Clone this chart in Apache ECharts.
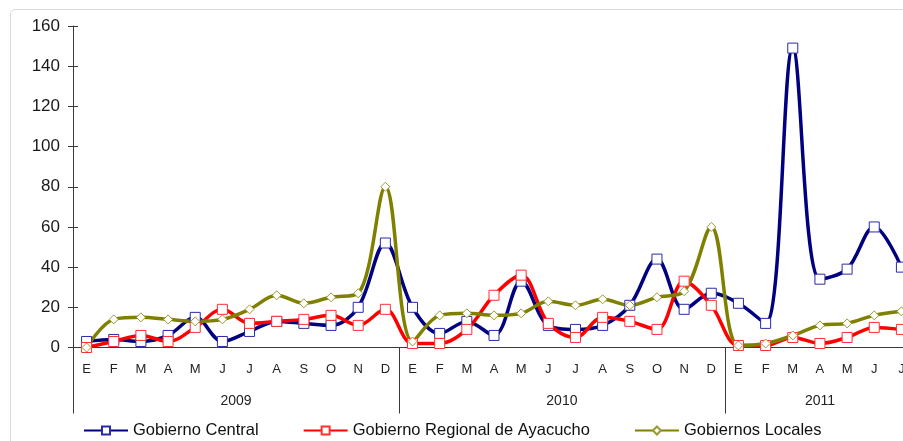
<!DOCTYPE html>
<html>
<head>
<meta charset="utf-8">
<script src="https://cdn.jsdelivr.net/npm/echarts@6/dist/echarts.min.js"></script>
<style>
  html, body { margin: 0; padding: 0; overflow: hidden; background: #fff; }
  #frame { position: absolute; left: 10px; top: 9px; width: 1000px; height: 1000px; border: 1px solid #dadada; border-radius: 5px; }
  #chart { position: absolute; left: 0; top: 0; width: 960px; height: 441px; }
</style>
</head>
<body>
<div id="frame"></div>
<div id="chart"></div>
<script>
const months = [
  'E', 'F', 'M', 'A', 'M', 'J', 'J', 'A', 'S', 'O', 'N', 'D',
  'E', 'F', 'M', 'A', 'M', 'J', 'J', 'A', 'S', 'O', 'N', 'D',
  'E', 'F', 'M', 'A', 'M', 'J', 'J'
]
const years = ['2009', '2010', '2011']
const yearStarts = [0, 12, 24]
const yearMids = [6, 18, 27.5]

const central = [3, 4, 3, 6, 15, 3, 8, 13, 12, 11, 20, 52,
  20, 7, 13, 6, 33, 11, 9, 11, 21, 44, 19, 27,
  22, 12, 149, 34, 39, 60, 40]
const regional = [0, 3, 6, 3, 10, 19, 12, 13, 14, 16, 11, 19,
  2, 2, 9, 26, 36, 12, 5, 15, 13, 9, 33, 21,
  1, 1, 5, 2, 5, 10, 9]
const locales = [0, 14, 15, 14, 13, 14, 19, 26, 22, 25, 27, 80,
  3, 16, 17, 16, 17, 23, 21, 24, 21, 25, 28, 60,
  1, 2, 6, 11, 12, 16, 18]

const chart = echarts.init(document.getElementById('chart'))
const axisColor = '#3a3a3a'
const font = 'Liberation Sans, Arial, sans-serif'

function line(name, data, color, markColor, symbol, size) {
  return {
    name,
    type: 'line',
    data,
    smooth: 0.35,
    symbol,
    symbolSize: size,
    showAllSymbol: true,
    lineStyle: { color, width: 3.5 },
    itemStyle: { color: '#fff', borderColor: markColor, borderWidth: 1 },
    emphasis: { disabled: true },
  }
}

chart.setOption({
  animation: false,
  textStyle: { fontFamily: font },
  grid: { left: 73, top: 26, width: 842, height: 321.5 },
  legend: {
    left: 83,
    top: 422,
    padding: 0,
    itemWidth: 44,
    itemHeight: 10,
    itemGap: 44,
    textStyle: { fontSize: 16.5, color: '#111', fontFamily: font },
  },
  xAxis: [
    {
      type: 'category',
      data: months,
      axisLine: { lineStyle: { color: axisColor, width: 1 } },
      axisTick: { length: 33, lineStyle: { color: axisColor } },
      axisLabel: { color: '#222', fontSize: 13, margin: 15, interval: 0 },
    },
    {
      type: 'value',
      min: 0,
      max: 31,
      position: 'bottom',
      splitLine: { show: false },
      axisLine: { show: false },
      axisTick: { show: true, length: 66, customValues: yearStarts, lineStyle: { color: axisColor } },
      axisLabel: {
        color: '#222', fontSize: 14, margin: 47,
        customValues: yearMids,
        formatter: v => years[yearMids.indexOf(v)],
      },
    },
  ],
  yAxis: [
    {
      type: 'value',
      min: 0,
      max: 160,
      interval: 20,
      splitLine: { show: false },
      axisLine: { show: true, lineStyle: { color: axisColor } },
      axisTick: { show: true, length: 5, lineStyle: { color: axisColor } },
      axisLabel: { color: '#1a1a1a', fontSize: 17, margin: 13 },
    },
    {
      type: 'value',
      min: 0,
      max: 160,
      interval: 20,
      position: 'left',
      splitLine: { show: false },
      axisLine: { show: false },
      axisTick: { show: true, inside: true, length: 5, lineStyle: { color: axisColor } },
      axisLabel: { show: false },
    },
  ],
  series: [
    line('Gobierno Central', central, '#000080', '#2a2aa8', 'rect', 10),
    line('Gobierno Regional de Ayacucho', regional, '#ff0000', '#ff3030', 'rect', 10),
    line('Gobiernos Locales', locales, '#808000', '#9a9a30', 'diamond', 9),
  ],
})
</script>
</body>
</html>
